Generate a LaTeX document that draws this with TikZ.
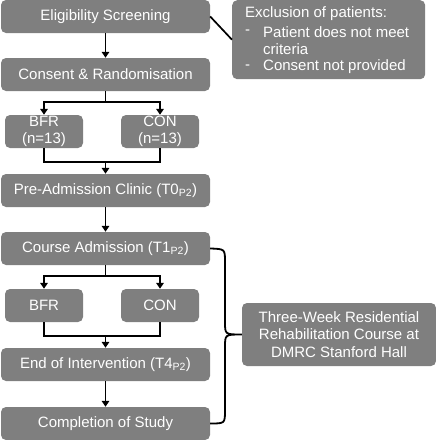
\documentclass[tikz,border=0pt]{standalone}
\usepackage{fontspec}
\setmainfont{Liberation Sans}
\usetikzlibrary{arrows.meta,calc}
\definecolor{boxgray}{HTML}{7F7F7F}
\begin{document}
\begin{tikzpicture}[x=1pt,y=-1pt,
  txt/.style={text=white,font=\fontsize{15}{17.5}\selectfont,inner sep=0pt},
  box/.style={txt,draw=none,fill=boxgray,rounded corners=5pt,align=center},
  wide/.style={box,minimum width=209pt,minimum height=33pt},
  small/.style={box,minimum width=78pt,minimum height=33pt},
  ltxt/.style={txt,anchor=west},
  arr/.style={line width=1.7pt,-{Triangle[length=6pt,width=7.5pt]}},
  ln/.style={line width=1.7pt}]
\useasboundingbox (0,0) rectangle (436,440);
\node[wide] (elig) at (105.5,16.5) {Eligibility Screening};
\node[wide] (cons) at (105.5,74.5) {Consent \& Randomisation};
\node[small] (bfr1) at (44,131.5) {BFR\\(n=13)};
\node[small] (con1) at (160,131.5) {CON\\(n=13)};
\node[wide] (pre) at (105.5,190.5) {Pre-Admission Clinic (T0\textsubscript{P2})};
\node[wide] (course) at (105.5,248.5) {Course Admission (T1\textsubscript{P2})};
\node[small] (bfr2) at (44,305.5) {BFR};
\node[small] (con2) at (160,305.5) {CON};
\node[wide] (end) at (105.5,364.5) {End of Intervention (T4\textsubscript{P2})};
\node[wide] (comp) at (105.5,423.5) {Completion of Study};
\node[box,minimum width=193pt,minimum height=79pt,anchor=north west] (excl) at (232,0) {};
\node[ltxt] (ex0) at (245,14) {Exclusion of patients:};
\node[ltxt] (ex1) at (245,32) {-};
\node[ltxt] (ex1t) at (263,32) {Patient does not meet};
\node[ltxt] (ex2t) at (263,49) {criteria};
\node[ltxt] (ex3) at (245,67) {-};
\node[ltxt] (ex3t) at (263,67) {Consent not provided};
\node[box,minimum width=194pt,minimum height=63pt] (three) at (339,334.5)
  {Three-Week Residential\\Rehabilitation Course at\\DMRC Stanford Hall};
% connectors
\draw[arr] (elig.south) -- (cons.north);
\draw[ln] (elig.east) -- (excl.west);
\coordinate (j1) at ($(cons.south)+(0,11)$);
\draw[ln] (cons.south) -- (j1);
\draw[arr] (j1) -| (bfr1.north);
\draw[arr] (j1) -| (con1.north);
\coordinate (j2) at ($(pre.north)+(0,-12)$);
\draw[ln] (bfr1.south) |- (j2) -| (con1.south);
\draw[arr] (j2) -- (pre.north);
\draw[arr] (pre.south) -- (course.north);
\coordinate (j3) at ($(course.south)+(0,11)$);
\draw[ln] (course.south) -- (j3);
\draw[arr] (j3) -| (bfr2.north);
\draw[arr] (j3) -| (con2.north);
\coordinate (j4) at ($(end.north)+(0,-12)$);
\draw[ln] (bfr2.south) |- (j4) -| (con2.south);
\draw[arr] (j4) -- (end.north);
\draw[arr] (end.south) -- (comp.north);
% brace
\draw[line width=1.8pt] (course.east) .. controls (225,249) .. (225,262) -- (225,322)
  .. controls (225,334.5) .. (three.west) .. controls (225,334.5) .. (225,347) -- (225,410)
  .. controls (225,423.5) .. (comp.east);
\end{tikzpicture}
\end{document}
